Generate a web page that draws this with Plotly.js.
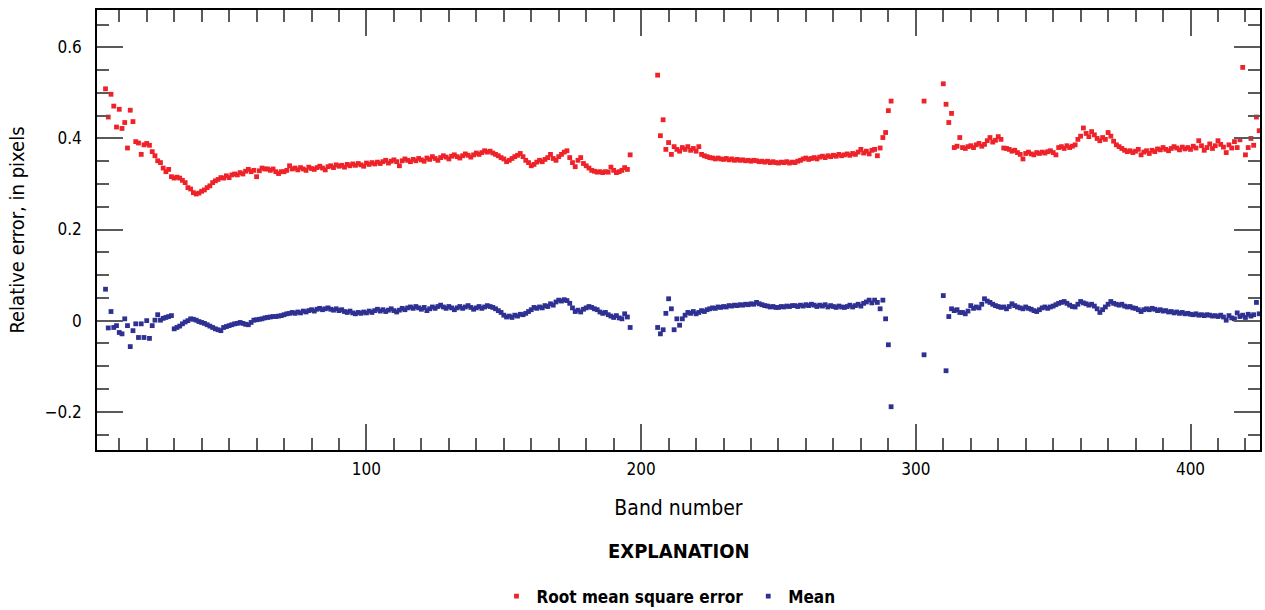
<!DOCTYPE html>
<html>
<head>
<meta charset="utf-8">
<script src="https://cdn.plot.ly/plotly-3.0.1.min.js"></script>
<style>html,body{margin:0;padding:0;background:#fff;}#chart{width:1265px;height:610px;}</style>
</head>
<body>
<div id="chart"></div>
<script>
// Band segments (first band of each contiguous run)
const segStarts = [5, 206, 303, 310];

// Root mean square error, per segment
const rmseSeg1 = [
0.509,0.447,0.497,0.471,0.425,0.464,0.422,0.435,0.379,0.462,
0.437,0.393,0.390,0.365,0.386,0.389,0.385,0.371,0.362,0.351,
0.347,0.335,0.327,0.332,0.316,0.313,0.315,0.313,0.308,0.303,
0.292,0.289,0.281,0.278,0.280,0.284,0.287,0.292,0.296,0.303,
0.307,0.310,0.314,0.313,0.318,0.314,0.320,0.322,0.320,0.325,
0.322,0.328,0.332,0.327,0.330,0.316,0.329,0.335,0.333,0.333,
0.330,0.333,0.327,0.323,0.327,0.327,0.330,0.340,0.333,0.335,
0.331,0.336,0.333,0.330,0.337,0.334,0.332,0.336,0.339,0.335,
0.331,0.338,0.340,0.336,0.342,0.339,0.341,0.337,0.343,0.340,
0.344,0.341,0.345,0.342,0.339,0.346,0.343,0.347,0.344,0.348,
0.345,0.349,0.352,0.346,0.350,0.353,0.349,0.340,0.351,0.355,
0.352,0.349,0.354,0.351,0.356,0.353,0.350,0.357,0.354,0.360,
0.356,0.352,0.358,0.362,0.359,0.355,0.361,0.364,0.360,0.357,
0.362,0.366,0.363,0.359,0.364,0.368,0.365,0.369,0.373,0.370,
0.372,0.368,0.365,0.362,0.358,0.355,0.349,0.352,0.356,0.360,
0.363,0.367,0.360,0.352,0.347,0.340,0.343,0.348,0.352,0.349,
0.354,0.358,0.365,0.356,0.352,0.360,0.365,0.370,0.373,0.358,
0.347,0.338,0.352,0.358,0.345,0.340,0.335,0.330,0.328,0.326,
0.327,0.325,0.327,0.326,0.337,0.330,0.325,0.327,0.330,0.336,
0.332,0.364];
const rmseSeg2 = [
0.539,0.406,0.441,0.376,0.391,0.365,0.382,0.376,0.372,0.380,
0.376,0.382,0.374,0.378,0.372,0.382,0.365,0.362,0.360,0.358,
0.357,0.355,0.357,0.355,0.354,0.356,0.353,0.355,0.352,0.354,
0.352,0.353,0.351,0.352,0.350,0.352,0.351,0.349,0.350,0.348,
0.350,0.347,0.349,0.347,0.346,0.348,0.347,0.349,0.346,0.348,
0.347,0.350,0.352,0.355,0.357,0.354,0.356,0.358,0.355,0.359,
0.361,0.358,0.362,0.360,0.363,0.361,0.365,0.362,0.364,0.366,
0.363,0.367,0.365,0.370,0.376,0.368,0.372,0.366,0.374,0.376,
0.362,0.379,0.402,0.413,0.461,0.482];
const rmseSeg3 = [0.482];
const rmseSeg4 = [
0.520,0.475,0.435,0.455,0.380,0.383,0.402,0.380,0.378,0.382,
0.384,0.380,0.386,0.389,0.383,0.387,0.395,0.402,0.392,0.396,
0.404,0.398,0.379,0.378,0.376,0.372,0.374,0.369,0.365,0.355,
0.367,0.370,0.366,0.364,0.369,0.367,0.370,0.368,0.371,0.373,
0.369,0.364,0.380,0.382,0.378,0.384,0.380,0.383,0.386,0.398,
0.405,0.423,0.411,0.404,0.415,0.408,0.400,0.395,0.402,0.398,
0.413,0.405,0.394,0.386,0.382,0.378,0.374,0.371,0.373,0.369,
0.372,0.376,0.364,0.370,0.373,0.367,0.374,0.371,0.377,0.375,
0.380,0.376,0.373,0.378,0.382,0.379,0.375,0.381,0.377,0.380,
0.376,0.383,0.379,0.395,0.384,0.374,0.380,0.388,0.378,0.384,
0.395,0.387,0.381,0.369,0.386,0.379,0.393,0.380,0.397,0.556,
0.364,0.380,0.400,0.385,0.447,0.417];

// Mean, per segment
const meanSeg1 = [
0.069,-0.016,0.020,-0.015,-0.011,-0.026,-0.029,0.004,-0.011,-0.057,
-0.022,-0.007,-0.037,-0.007,-0.037,0.000,-0.039,-0.011,0.001,0.013,
0.001,0.005,0.007,0.009,0.011,-0.018,-0.015,-0.012,-0.007,-0.003,
0.000,0.004,0.003,0.001,-0.002,-0.004,-0.006,-0.009,-0.012,-0.015,
-0.018,-0.020,-0.022,-0.015,-0.013,-0.011,-0.009,-0.007,-0.006,-0.004,
-0.006,-0.008,-0.009,-0.004,0.001,0.002,0.003,0.004,0.006,0.007,
0.008,0.009,0.009,0.010,0.011,0.013,0.015,0.016,0.018,0.016,
0.019,0.017,0.021,0.019,0.022,0.024,0.021,0.025,0.027,0.024,
0.026,0.028,0.025,0.023,0.026,0.022,0.024,0.020,0.018,0.021,
0.017,0.015,0.018,0.016,0.019,0.017,0.021,0.018,0.022,0.025,
0.021,0.024,0.020,0.023,0.026,0.022,0.019,0.023,0.027,0.024,
0.028,0.030,0.027,0.031,0.028,0.025,0.029,0.022,0.026,0.030,
0.027,0.031,0.034,0.030,0.027,0.031,0.028,0.024,0.028,0.031,
0.027,0.030,0.033,0.029,0.025,0.028,0.031,0.027,0.030,0.033,
0.031,0.029,0.026,0.022,0.018,0.012,0.008,0.010,0.007,0.012,
0.010,0.014,0.013,0.016,0.020,0.024,0.029,0.027,0.030,0.028,
0.033,0.031,0.037,0.034,0.041,0.045,0.043,0.046,0.044,0.038,
0.028,0.020,0.023,0.019,0.025,0.028,0.031,0.029,0.026,0.024,
0.019,0.016,0.018,0.013,0.010,0.007,0.011,0.006,0.004,0.015,
0.008,-0.015];
const meanSeg2 = [
-0.015,-0.029,-0.020,0.016,0.048,0.026,-0.020,0.004,-0.010,0.004,
0.012,0.018,0.016,0.020,0.015,0.018,0.022,0.020,0.024,0.026,
0.028,0.027,0.030,0.029,0.031,0.030,0.033,0.032,0.034,0.033,
0.035,0.034,0.036,0.035,0.037,0.036,0.040,0.037,0.035,0.033,
0.032,0.030,0.031,0.029,0.029,0.031,0.030,0.032,0.031,0.033,
0.033,0.031,0.034,0.032,0.035,0.033,0.036,0.034,0.031,0.034,
0.032,0.035,0.030,0.033,0.031,0.029,0.032,0.030,0.029,0.031,
0.034,0.030,0.033,0.036,0.032,0.038,0.041,0.045,0.039,0.045,
0.040,0.026,0.045,0.004,-0.053,-0.189];
const meanSeg3 = [-0.075];
const meanSeg4 = [
0.055,-0.110,0.009,0.026,0.022,0.024,0.018,0.018,0.015,0.021,
0.033,0.027,0.030,0.028,0.036,0.048,0.043,0.040,0.036,0.033,
0.031,0.029,0.030,0.026,0.031,0.037,0.033,0.030,0.028,0.026,
0.030,0.027,0.025,0.022,0.020,0.024,0.028,0.030,0.027,0.030,
0.032,0.035,0.038,0.040,0.042,0.038,0.034,0.031,0.030,0.036,
0.042,0.039,0.037,0.034,0.036,0.032,0.026,0.018,0.024,0.030,
0.036,0.042,0.038,0.036,0.034,0.036,0.032,0.030,0.031,0.028,
0.027,0.024,0.020,0.024,0.026,0.024,0.027,0.025,0.022,0.024,
0.021,0.022,0.019,0.020,0.017,0.019,0.016,0.018,0.015,0.016,
0.014,0.013,0.015,0.012,0.013,0.011,0.013,0.012,0.010,0.011,
0.009,0.012,0.008,0.001,0.011,0.006,0.004,0.017,0.009,0.012,
0.007,0.014,0.010,0.013,0.040,0.015];

const seriesNames = ['Root mean square error', 'Mean'];
const xTitle = 'Band number';
const yTitle = 'Relative error, in pixels';
const legendHeading = 'EXPLANATION';

// Assemble band numbers and values from the segments
const rmseSegs = [rmseSeg1, rmseSeg2, rmseSeg3, rmseSeg4];
const meanSegs = [meanSeg1, meanSeg2, meanSeg3, meanSeg4];
const bands = [], rmse = [], mean = [];
segStarts.forEach((s, i) => {
  rmseSegs[i].forEach((v, j) => { bands.push(s + j); rmse.push(v); mean.push(meanSegs[i][j]); });
});

const FONT = '"DejaVu Sans Condensed", "Liberation Sans Narrow", sans-serif';

const traces = [
  {x: bands, y: rmse, name: seriesNames[0], type: 'scatter', mode: 'markers',
   marker: {symbol: 'square', size: 4.8, color: '#ee2228'}},
  {x: bands, y: mean, name: seriesNames[1], type: 'scatter', mode: 'markers',
   marker: {symbol: 'square', size: 4.8, color: '#2e3192'}}
];

const tickStyle = {ticks: 'inside', ticklen: 26, tickwidth: 1.5, tickcolor: '#5a5a5a',
  showline: true, linecolor: '#000', linewidth: 1.5, mirror: 'allticks',
  showgrid: false, zeroline: false, automargin: false};

const layout = {
  width: 1265, height: 610,
  margin: {l: 97, r: 5, t: 10, b: 160},
  paper_bgcolor: '#fff', plot_bgcolor: '#fff',
  font: {family: FONT, size: 17, color: '#000'},
  showlegend: true,
  legend: {orientation: 'h', x: 0.4914, xanchor: 'center', xref: 'paper',
    y: 0.022, yanchor: 'middle', yref: 'container',
    font: {family: FONT, size: 17, weight: 'bold'}, itemwidth: 30},
  xaxis: Object.assign({}, tickStyle, {
    range: [1.9, 425.3], tick0: 0, dtick: 100,
    minor: {tick0: 0, dtick: 10, ticks: 'inside', ticklen: 12, tickwidth: 1.5, tickcolor: '#5a5a5a', showgrid: false},
    tickfont: {family: FONT, size: 17}, ticklabelstandoff: 3,
    title: {text: xTitle, font: {family: FONT, size: 21}, standoff: 22}
  }),
  yaxis: Object.assign({}, tickStyle, {
    range: [-0.284, 0.682], tick0: 0, dtick: 0.2,
    minor: {tick0: 0, dtick: 0.05, ticks: 'inside', ticklen: 12, tickwidth: 1.5, tickcolor: '#5a5a5a', showgrid: false},
    tickfont: {family: FONT, size: 17}, ticklabelstandoff: 10,
    title: {text: yTitle, font: {family: FONT, size: 20}, standoff: 15}
  }),
  annotations: [{text: legendHeading, xref: 'paper', yref: 'paper', x: 0.5, y: -0.2295,
    xanchor: 'center', yanchor: 'middle', showarrow: false,
    font: {family: FONT, size: 20, weight: 'bold'}}]
};

Plotly.newPlot('chart', traces, layout, {displayModeBar: false, responsive: false});
</script>
</body>
</html>
